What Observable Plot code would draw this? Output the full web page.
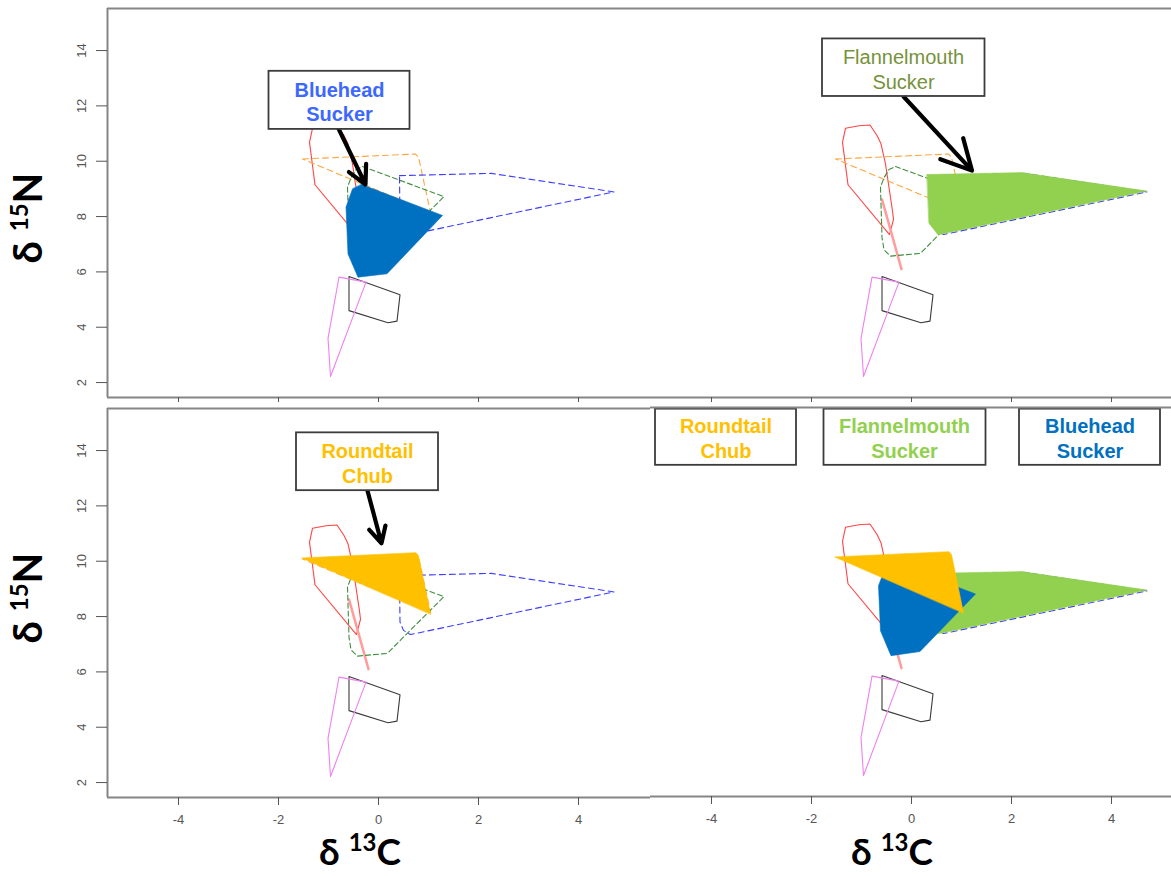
<!DOCTYPE html>
<html><head><meta charset="utf-8">
<script src="https://cdn.jsdelivr.net/npm/d3@7"></script>
<script src="https://cdn.jsdelivr.net/npm/@observablehq/plot@0.6"></script>
<style>
html,body{margin:0;padding:0;background:#fff;}
#wrap{position:relative;width:1171px;height:876px;overflow:hidden;background:#fff;}
.panel{position:absolute;}
</style></head><body><div id="wrap"></div>
<script>
// ---- axes ----
const xDomainLeft = [-5.42, 5.44];
const xDomainRight = [-5.22, 5.2];
const yDomain = [1.46, 15.52];
const xTicks = [-4, -2, 0, 2, 4];
const yTicks = [2, 4, 6, 8, 10, 12, 14];
const xTitle = "δ 13C";
const yTitle = "δ 15N";

// ---- hull outlines: [δ13C, δ15N] ----
const redHull = [[-1.38,10.68],[-1.32,11.19],[-1.05,11.28],[-0.83,11.31],[-0.69,10.93],[-0.61,10.63],[-0.52,9.9],[-0.38,8.2],[-0.36,7.9],[-0.44,7.35],[-1.27,9.15]];
const salmonHull = [[-0.59,8.62],[-0.2,6.1]];
const orangeHull = [[-1.52,10.08],[0.74,10.26],[0.8,10.15],[1.04,8.15]];
const greenHull = [[-0.32,9.81],[1.31,8.72],[0.55,7.35],[0.18,6.67],[-0.42,6.57],[-0.55,6.8],[-0.59,7.25],[-0.62,9.06],[-0.55,9.4],[-0.45,9.7]];
const blueHull = [[0.42,9.48],[2.25,9.56],[4.71,8.89],[0.64,7.35],[0.5,7.5],[0.43,7.8]];
const blackHull = [[-0.59,5.83],[0.43,5.17],[0.37,4.22],[0.19,4.16],[-0.59,4.6]];
const violetHull = [[-0.79,5.81],[-0.25,5.63],[-0.96,2.22],[-1.01,3.6]];

// ---- highlighted (filled) hulls ----
const blueheadFillTop = [[-0.34,9.16],[1.28,8.04],[0.17,5.93],[-0.41,5.81],[-0.61,6.65],[-0.65,8.34],[-0.52,9.0]];
const blueheadFillAll = [[-0.34,9.9],[1.28,8.78],[0.17,6.7],[-0.41,6.55],[-0.62,7.45],[-0.66,9.08],[-0.52,9.74]];
const flannelFill = [[0.31,9.52],[2.2,9.59],[4.71,8.92],[0.53,7.34],[0.35,7.76]];
const roundtailFill = [[-1.53,10.12],[0.75,10.31],[0.8,10.2],[1.04,8.09]];

// ---- annotation boxes, labels and arrows ----
const speciesNames = ["Roundtail\nChub", "Flannelmouth\nSucker", "Bluehead\nSucker"];
const boxTL = [{x1:-2.19, x2:0.63, y1:11.15, y2:13.25, tx:-0.78, ty:12.17}];
const arrowTL = [{x1:-0.8, y1:11.18, x2:-0.26, y2:9.16}];
const boxTR = [{x1:-1.78, x2:1.47, y1:12.34, y2:14.42, tx:-0.16, ty:13.35}];
const arrowTR = [{x1:-0.16, y1:12.34, x2:1.21, y2:9.66}];
const boxBL = [{x1:-1.64, x2:1.2, y1:12.55, y2:14.64, tx:-0.22, ty:13.56}];
const arrowBL = [{x1:-0.22, y1:12.55, x2:0.06, y2:10.65}];
const legendBR = [
  {x1:-5.12, x2:-2.3, y1:13.43, y2:15.46, tx:-3.71, ty:14.43},
  {x1:-1.75, x2:1.49, y1:13.43, y2:15.46, tx:-0.14, ty:14.43},
  {x1:2.16, x2:4.98, y1:13.43, y2:15.46, tx:3.57, ty:14.43}
];

const P = arr => arr.map(([x, y]) => ({x, y}));
const FONT = "Liberation Sans, Arial, sans-serif";

function hullMarks(all = true) {
  const o = {x: "x", y: "y", curve: "linear-closed", strokeWidth: 1.1};
  const m = [
    Plot.line(P(redHull), {...o, stroke: "#ff4444"}),
    Plot.line(P(salmonHull), {x: "x", y: "y", stroke: "#ff9c9c", strokeWidth: 2.5})
  ];
  if (all) {
    m.push(Plot.line(P(orangeHull), {...o, stroke: "#ffa640", strokeDasharray: "6,4"}));
    m.push(Plot.line(P(greenHull), {...o, stroke: "#3f8f3f", strokeDasharray: "5,3"}));
  }
  m.push(Plot.line(P(blueHull), {...o, stroke: "#3c3cff", strokeDasharray: "6,4"}));
  m.push(Plot.line(P(blackHull), {...o, stroke: "#3a3a3a"}));
  m.push(Plot.line(P(violetHull), {...o, stroke: "#ee82ee"}));
  return m;
}
function fillMark(arr, color) {
  return Plot.line(P(arr), {x: "x", y: "y", curve: "linear-closed", fill: color, stroke: color, strokeWidth: 0.6});
}
function boxMarks(data, texts, colors, weight) {
  return [
    Plot.rect(data, {x1: "x1", x2: "x2", y1: "y1", y2: "y2", fill: "white", stroke: "#3c3c3c", strokeWidth: 1.8}),
    Plot.text(data, {x: "tx", y: "ty", text: (d, i) => texts[i], fill: (d, i) => colors[i], fontSize: 20, fontWeight: weight, fontFamily: FONT, lineHeight: 1.22})
  ];
}
function arrowMark(data) {
  return Plot.arrow(data, {x1: "x1", y1: "y1", x2: "x2", y2: "y2", stroke: "black", strokeWidth: 4.2, headLength: 16, headAngle: 55});
}
function frameMarks(sides, xDomain) {
  const s = {stroke: "#858585", strokeWidth: 2};
  const m = [];
  if (sides.includes("top")) m.push(Plot.ruleY([yDomain[1]], s));
  if (sides.includes("bottom")) m.push(Plot.ruleY([yDomain[0]], s));
  if (sides.includes("left")) m.push(Plot.ruleX([xDomain[0]], s));
  return m;
}
function xAxis(withLabels) {
  return Plot.axisX(xTicks, {anchor: "bottom", tickSize: withLabels ? 8 : 6, tickPadding: 9, fontSize: 13, color: "#555", label: null,
    tickFormat: withLabels ? (d => String(d)) : (() => "")});
}
function yAxis() {
  return Plot.axisY(yTicks, {anchor: "left", tickSize: 11, tickPadding: 11, tickRotate: -90, fontSize: 13, color: "#555", label: null});
}
function yTitleMark(dy) {
  return Plot.text([yTitle], {text: d => d, frameAnchor: "left", textAnchor: "middle", lineAnchor: "middle", dx: -78, dy, rotate: -90, fontSize: 40, fontWeight: "bold", fontFamily: "Lato, Open Sans, sans-serif", fill: "black"});
}
function xTitleMark(dx, dy) {
  return Plot.text([xTitle], {text: d => d, frameAnchor: "bottom", textAnchor: "middle", lineAnchor: "middle", dx, dy, fontSize: 37, fontWeight: "bold", fontFamily: "Lato, Open Sans, sans-serif", fill: "black"});
}

function superscripts(svg) {
  d3.select(svg).selectAll("text").each(function() {
    const m = /^δ (\d+)([A-Z])$/.exec(this.textContent);
    if (!m) return;
    const t = d3.select(this);
    t.text(null);
    t.append("tspan").text("δ ");
    t.append("tspan").attr("font-size", "24").attr("dy", "-14").text(m[1]);
    t.append("tspan").attr("dy", "14").text(m[2]);
  });
}

const wrap = document.getElementById("wrap");
function panel({left, top, width, height, mt, mb, ml, xDomain, yAxisOn, marks}) {
  const chart = Plot.plot({
    width, height, marginTop: mt, marginBottom: mb, marginLeft: ml, marginRight: 0,
    x: {domain: xDomain},
    y: yAxisOn ? {domain: yDomain} : {domain: yDomain, axis: null},
    style: {fontFamily: FONT, background: "white", overflow: "visible"},
    marks
  });
  superscripts(chart);
  const div = document.createElement("div");
  div.className = "panel";
  div.style.left = left + "px";
  div.style.top = top + "px";
  div.appendChild(chart);
  wrap.appendChild(div);
}

// top-left: Bluehead Sucker
panel({left: 0, top: 0, width: 650, height: 402, mt: 8, mb: 5, ml: 107, xDomain: xDomainLeft, yAxisOn: true, marks: [
  ...hullMarks(),
  fillMark(blueheadFillTop, "#0070c0"),
  arrowMark(arrowTL),
  ...boxMarks(boxTL, [speciesNames[2]], ["#3d68ff"], "bold"),
  ...frameMarks(["top", "bottom", "left"], xDomainLeft),
  xAxis(false), yAxis(), yTitleMark(15)
]});
// top-right: Flannelmouth Sucker
panel({left: 650, top: 0, width: 521, height: 402, mt: 8, mb: 5, ml: 0, xDomain: xDomainRight, yAxisOn: false, marks: [
  ...hullMarks(),
  fillMark(flannelFill, "#92d050"),
  arrowMark(arrowTR),
  ...boxMarks(boxTR, [speciesNames[1]], ["#76923c"], "normal"),
  ...frameMarks(["top", "bottom"], xDomainRight),
  xAxis(false)
]});
// bottom-left: Roundtail Chub
panel({left: 0, top: 402, width: 650, height: 474, mt: 6, mb: 79, ml: 107, xDomain: xDomainLeft, yAxisOn: true, marks: [
  ...hullMarks(),
  fillMark(roundtailFill, "#ffc000"),
  arrowMark(arrowBL),
  ...boxMarks(boxBL, [speciesNames[0]], ["#ffc000"], "bold"),
  ...frameMarks(["top", "bottom", "left"], xDomainLeft),
  xAxis(true), yAxis(), yTitleMark(-5), xTitleMark(-19, 56)
]});
// bottom-right: all three
panel({left: 650, top: 402, width: 521, height: 474, mt: 5, mb: 80, ml: 0, xDomain: xDomainRight, yAxisOn: false, marks: [
  ...hullMarks(false),
  fillMark(flannelFill, "#92d050"),
  fillMark(blueheadFillAll, "#0070c0"),
  fillMark(roundtailFill, "#ffc000"),
  ...boxMarks(legendBR, speciesNames, ["#ffc000", "#92d050", "#0070c0"], "bold"),
  ...frameMarks(["top", "bottom"], xDomainRight),
  xAxis(true), xTitleMark(-19, 57)
]});
</script></body></html>
